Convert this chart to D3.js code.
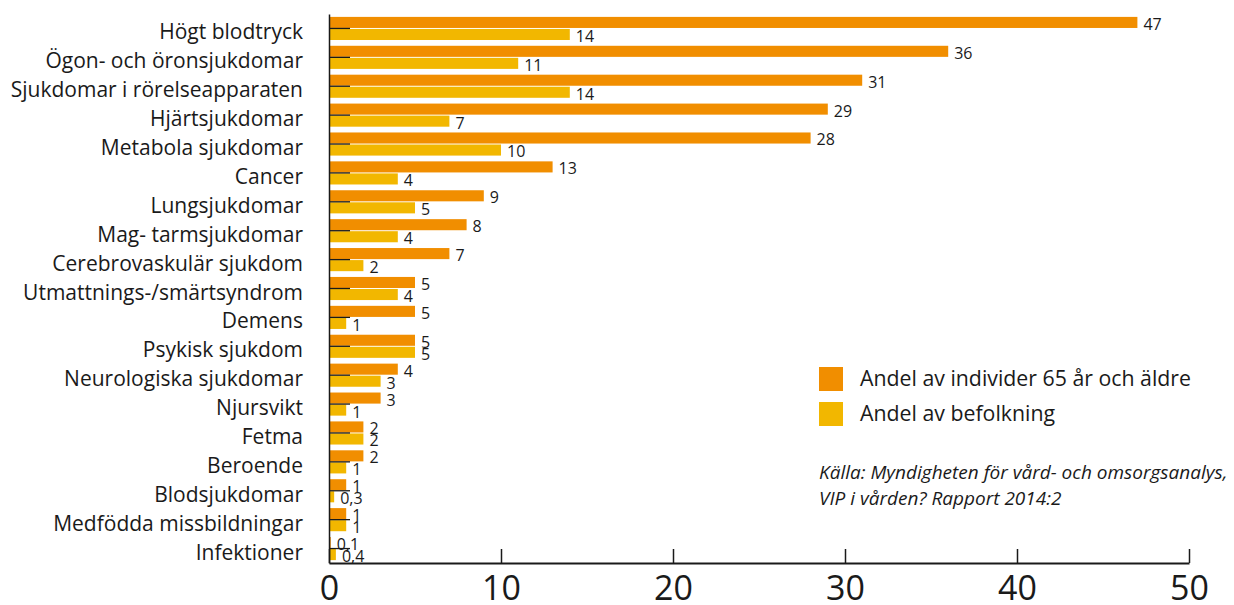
<!DOCTYPE html>
<html>
<head>
<meta charset="utf-8">
<script src="https://cdn.jsdelivr.net/npm/d3@7"></script>
<style>
  body { margin: 0; background: #fff; }
  svg { display: block; font-family: "Open Sans", "Noto Sans", sans-serif; }
</style>
</head>
<body>
<div id="chart"></div>
<script>
const categories = [
  "Högt blodtryck", "Ögon- och öronsjukdomar", "Sjukdomar i rörelseapparaten",
  "Hjärtsjukdomar", "Metabola sjukdomar", "Cancer", "Lungsjukdomar",
  "Mag- tarmsjukdomar", "Cerebrovaskulär sjukdom", "Utmattnings-/smärtsyndrom",
  "Demens", "Psykisk sjukdom", "Neurologiska sjukdomar", "Njursvikt", "Fetma",
  "Beroende", "Blodsjukdomar", "Medfödda missbildningar", "Infektioner"
]
const elderly = [47, 36, 31, 29, 28, 13, 9, 8, 7, 5, 5, 5, 4, 3, 2, 2, 1, 1, 0.1]
const population = [14, 11, 14, 7, 10, 4, 5, 4, 2, 4, 1, 5, 3, 1, 2, 1, 0.3, 1, 0.4]
const seriesNames = ["Andel av individer 65 år och äldre", "Andel av befolkning"]
const seriesColors = ["#f18e00", "#f2b700"]
const xTicks = [0, 10, 20, 30, 40, 50]
const sourceLines = ["Källa: Myndigheten för vård- och omsorgsanalys,", "VIP i vården? Rapport 2014:2"]

const width = 1234, height = 605
const fmt = v => String(v).replace(".", ",")

const svg = d3.select("#chart").append("svg")
  .attr("width", width)
  .attr("height", height)

const x = d3.scaleLinear().domain([0, 50]).range([329, 1189])
const y = d3.scaleBand().domain(categories).range([14, 563])
  .paddingInner(0.2).paddingOuter(0.1)
const sub = d3.scaleBand().domain([0, 1]).range([0, y.bandwidth()]).paddingInner(0.08)

const rows = categories.map((c, i) => ({ cat: c, vals: [elderly[i], population[i]] }))

// Bars
const g = svg.append("g")
const row = g.selectAll("g.row").data(rows).join("g")
  .attr("class", "row")
  .attr("transform", d => `translate(0,${y(d.cat)})`)

row.selectAll("rect").data(d => d.vals.map((v, s) => ({ v, s }))).join("rect")
  .attr("x", x(0))
  .attr("y", d => sub(d.s))
  .attr("width", d => x(d.v) - x(0))
  .attr("height", sub.bandwidth())
  .attr("fill", d => seriesColors[d.s])

row.selectAll("text.val").data(d => d.vals.map((v, s) => ({ v, s }))).join("text")
  .attr("class", "val")
  .attr("x", d => x(d.v) + 6)
  .attr("y", d => sub(d.s) + 13)
  .style("font-size", "16px")
  .style("fill", "#1a1a1a")
  .text(d => fmt(d.v))

// Y axis (ticks point inward)
const yAxis = svg.append("g")
  .attr("transform", `translate(${x(0)},0)`)
  .call(d3.axisLeft(y).tickSizeInner(-21).tickSizeOuter(0).tickPadding(26))
yAxis.select(".domain").attr("stroke", "#1a1a1a").attr("stroke-width", 1.5)
yAxis.selectAll(".tick line").attr("stroke", "#1a1a1a").attr("stroke-width", 1.3)
yAxis.selectAll(".tick text")
  .attr("dy", 11)
  .style("font-size", "21px")
  .style("font-family", "\"Open Sans\", sans-serif")
  .style("fill", "#1a1a1a")

// X axis
const xAxis = svg.append("g")
  .attr("transform", "translate(0,563)")
  .call(d3.axisBottom(x).tickValues(xTicks).tickSizeInner(-14).tickSizeOuter(0).tickPadding(13))
xAxis.select(".domain").attr("stroke", "#1a1a1a").attr("stroke-width", 2)
xAxis.selectAll(".tick line").attr("stroke", "#1a1a1a").attr("stroke-width", 1.5)
xAxis.selectAll(".tick text")
  .style("font-size", "34px")
  .style("font-family", "\"Open Sans\", sans-serif")
  .style("fill", "#1a1a1a")

// Legend
const legend = svg.append("g")
seriesNames.forEach((name, i) => {
  legend.append("rect")
    .attr("x", 819).attr("y", 367 + i * 35)
    .attr("width", 24).attr("height", 24)
    .attr("fill", seriesColors[i])
  legend.append("text")
    .attr("x", 860).attr("y", 386 + i * 35)
    .style("font-size", "21.3px")
    .style("fill", "#1a1a1a")
    .text(name)
})

// Source note
sourceLines.forEach((line, i) => {
  svg.append("text")
    .attr("x", 819).attr("y", 479 + i * 26)
    .style("font-size", "19px")
    .style("font-style", "italic")
    .style("fill", "#1a1a1a")
    .text(line)
})
</script>
</body>
</html>
